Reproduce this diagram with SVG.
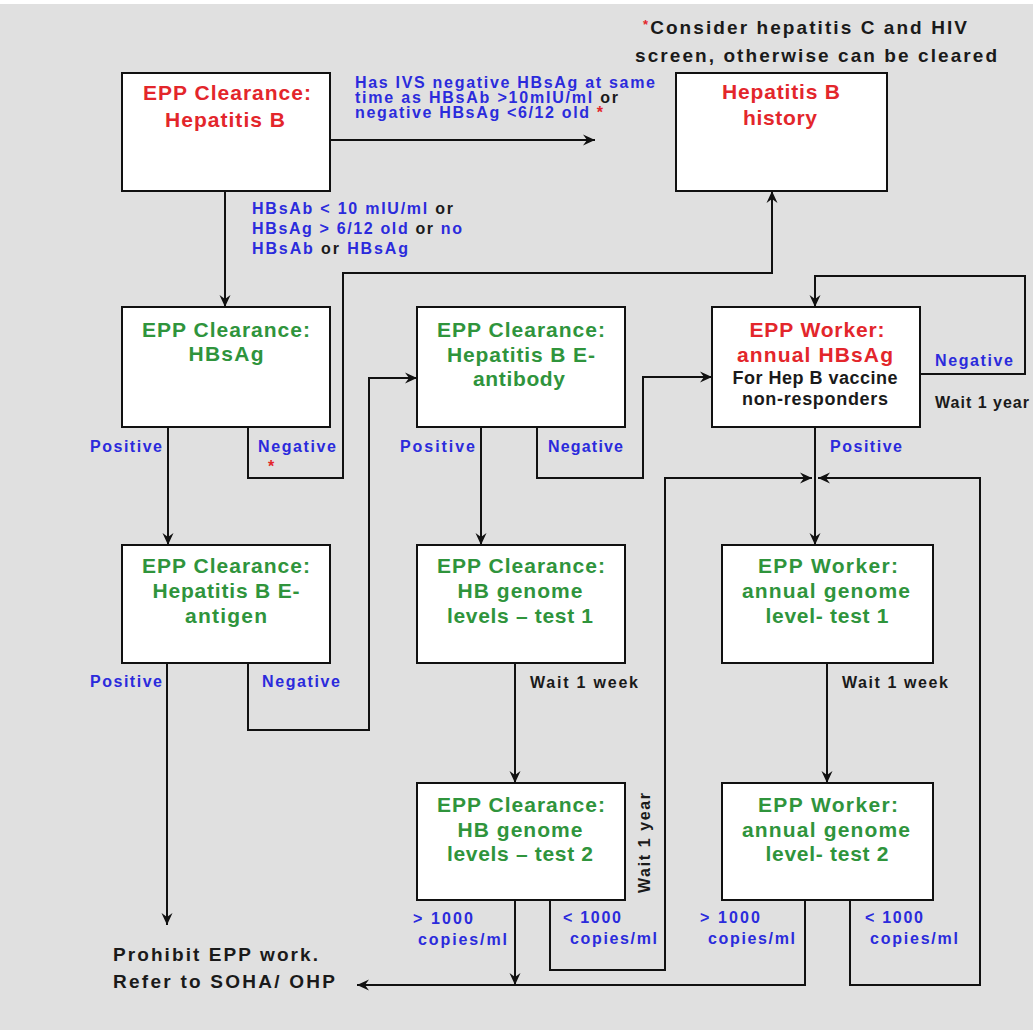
<svg xmlns="http://www.w3.org/2000/svg" width="1033" height="1030" viewBox="0 0 1033 1030">
<style>
text{font-family:"Liberation Sans",Arial,sans-serif;font-weight:bold}
.box{fill:#fff;stroke:#111;stroke-width:2}
.t{font-size:21px;text-anchor:middle}
.red{fill:#e3262b}
.grn{fill:#2f943c}
.blu{fill:#2b2bdc}
.blk{fill:#1a1a1a}
.lbl{font-size:16px}
.sub{font-size:18px;text-anchor:middle}
.note{font-size:19px}
.con path{fill:none;stroke:#111;stroke-width:2}
</style>
<defs>
<marker id="ah" viewBox="-13 -6 14 12" refX="0" refY="0" markerWidth="14" markerHeight="12" markerUnits="userSpaceOnUse" orient="auto">
<path d="M0,0 L-12,-5.5 L-8,0 L-12,5.5 Z" fill="#111"/>
</marker>
</defs>
<rect x="0" y="0" width="1033" height="1030" fill="#fff"/>
<rect x="0" y="4" width="1033" height="1026" fill="#e0e0e0"/>

<g id="note">
<text class="note blk" x="805" y="34" text-anchor="middle" textLength="324"><tspan class="red" font-size="13" dy="-5">*</tspan><tspan dy="5">Consider hepatitis C and HIV</tspan></text>
<text class="note blk" x="816" y="62" text-anchor="middle" textLength="362">screen, otherwise can be cleared</text>
</g>

<g class="con">
<path d="M330,140 H595" marker-end="url(#ah)"/>
<path d="M225,191 V307" marker-end="url(#ah)"/>
<path d="M248,427 V478 H343 V273 H772 V191" marker-end="url(#ah)"/>
<path d="M168,427 V545" marker-end="url(#ah)"/>
<path d="M248,663 V730 H369 V378 H417" marker-end="url(#ah)"/>
<path d="M167,663 V925" marker-end="url(#ah)"/>
<path d="M481,427 V545" marker-end="url(#ah)"/>
<path d="M537,427 V478 H643 V377 H712" marker-end="url(#ah)"/>
<path d="M920,374 H1025 V276 H815 V307" marker-end="url(#ah)"/>
<path d="M815,427 V545" marker-end="url(#ah)"/>
<path d="M515,663 V783" marker-end="url(#ah)"/>
<path d="M827,663 V783" marker-end="url(#ah)"/>
<path d="M550,900 V970 H665 V478 H812" marker-end="url(#ah)"/>
<path d="M850,900 V985 H980 V478 H818" marker-end="url(#ah)"/>
<path d="M515,900 V985" marker-end="url(#ah)"/>
<path d="M805,900 V985 H357" marker-end="url(#ah)"/>
</g>

<g id="labels">
<text class="lbl blu" x="355" y="88" textLength="300">Has IVS negative HBsAg at same</text>
<text class="lbl blu" x="355" y="103" textLength="263">time as HBsAb &gt;10mIU/ml <tspan class="blk">or</tspan></text>
<text class="lbl blu" x="355" y="118" textLength="248">negative HBsAg &lt;6/12 old <tspan class="red">*</tspan></text>
<text class="lbl blu" x="252" y="214" font-size="17" textLength="201">HBsAb &lt; 10 mIU/ml <tspan class="blk">or</tspan></text>
<text class="lbl blu" x="252" y="234" font-size="17" textLength="210">HBsAg &gt; 6/12 old <tspan class="blk">or</tspan> no</text>
<text class="lbl blu" x="252" y="254" font-size="17" textLength="156">HBsAb <tspan class="blk">or</tspan> HBsAg</text>

<text class="lbl blu" x="90" y="452" textLength="72">Positive</text>
<text class="lbl blu" x="258" y="452" textLength="78">Negative</text>
<text class="lbl red" x="268" y="472">*</text>
<text class="lbl blu" x="400" y="452" textLength="75">Positive</text>
<text class="lbl blu" x="548" y="452" textLength="75">Negative</text>
<text class="lbl blu" x="830" y="452" textLength="72">Positive</text>
<text class="lbl blu" x="935" y="366" textLength="78">Negative</text>
<text class="lbl blk" x="935" y="408" textLength="94">Wait 1 year</text>

<text class="lbl blu" x="90" y="687" textLength="72">Positive</text>
<text class="lbl blu" x="262" y="687" textLength="78">Negative</text>
<text class="lbl blk" x="530" y="688" textLength="108">Wait 1 week</text>
<text class="lbl blk" x="842" y="688" textLength="106">Wait 1 week</text>
<text class="lbl blk" x="0" y="0" text-anchor="middle" textLength="100" transform="translate(650,843) rotate(-90)">Wait 1 year</text>

<text class="lbl blu" x="413" y="924" textLength="60">&gt; 1000</text>
<text class="lbl blu" x="418" y="945" textLength="89">copies/ml</text>
<text class="lbl blu" x="563" y="923" textLength="58">&lt; 1000</text>
<text class="lbl blu" x="570" y="944" textLength="87">copies/ml</text>
<text class="lbl blu" x="700" y="923" textLength="60">&gt; 1000</text>
<text class="lbl blu" x="708" y="944" textLength="87">copies/ml</text>
<text class="lbl blu" x="865" y="923" textLength="58">&lt; 1000</text>
<text class="lbl blu" x="870" y="944" textLength="88">copies/ml</text>

<text class="note blk" x="113" y="961" textLength="205">Prohibit EPP work.</text>
<text class="note blk" x="113" y="988" textLength="222">Refer to SOHA/ OHP</text>
</g>

<g id="n1">
<rect class="box" x="122" y="73" width="208" height="118"/>
<text class="t red" x="227" y="100" textLength="168">EPP Clearance:</text>
<text class="t red" x="225" y="127" textLength="120">Hepatitis B</text>
</g>
<g id="n2">
<rect class="box" x="676" y="73" width="211" height="118"/>
<text class="t red" x="781" y="99" textLength="118">Hepatitis B</text>
<text class="t red" x="780" y="125" textLength="74">history</text>
</g>
<g id="n3">
<rect class="box" x="122" y="307" width="208" height="120"/>
<text class="t grn" x="226" y="337" textLength="168">EPP Clearance:</text>
<text class="t grn" x="226" y="361" textLength="75">HBsAg</text>
</g>
<g id="n4">
<rect class="box" x="417" y="307" width="208" height="120"/>
<text class="t grn" x="521" y="337" textLength="168">EPP Clearance:</text>
<text class="t grn" x="521" y="362" textLength="148">Hepatitis B E-</text>
<text class="t grn" x="519" y="386" textLength="92">antibody</text>
</g>
<g id="n5">
<rect class="box" x="712" y="307" width="208" height="120"/>
<text class="t red" x="817" y="337" textLength="135">EPP Worker:</text>
<text class="t red" x="815" y="362" textLength="156">annual HBsAg</text>
<text class="sub blk" x="815" y="384" textLength="165">For Hep B vaccine</text>
<text class="sub blk" x="815" y="405" textLength="146">non-responders</text>
</g>
<g id="n6">
<rect class="box" x="122" y="545" width="208" height="118"/>
<text class="t grn" x="226" y="573" textLength="168">EPP Clearance:</text>
<text class="t grn" x="226" y="598" textLength="147">Hepatitis B E-</text>
<text class="t grn" x="226" y="623" textLength="82">antigen</text>
</g>
<g id="n7">
<rect class="box" x="417" y="545" width="208" height="118"/>
<text class="t grn" x="521" y="573" textLength="168">EPP Clearance:</text>
<text class="t grn" x="520" y="598" textLength="125">HB genome</text>
<text class="t grn" x="520" y="623" textLength="146">levels – test 1</text>
</g>
<g id="n8">
<rect class="box" x="722" y="545" width="211" height="118"/>
<text class="t grn" x="828" y="573" textLength="140">EPP Worker:</text>
<text class="t grn" x="826" y="598" textLength="168">annual genome</text>
<text class="t grn" x="827" y="623" textLength="123">level- test 1</text>
</g>
<g id="n9">
<rect class="box" x="417" y="783" width="208" height="117"/>
<text class="t grn" x="521" y="812" textLength="168">EPP Clearance:</text>
<text class="t grn" x="520" y="837" textLength="125">HB genome</text>
<text class="t grn" x="520" y="861" textLength="146">levels – test 2</text>
</g>
<g id="n10">
<rect class="box" x="722" y="783" width="211" height="117"/>
<text class="t grn" x="828" y="812" textLength="140">EPP Worker:</text>
<text class="t grn" x="826" y="837" textLength="168">annual genome</text>
<text class="t grn" x="827" y="861" textLength="123">level- test 2</text>
</g>
</svg>
